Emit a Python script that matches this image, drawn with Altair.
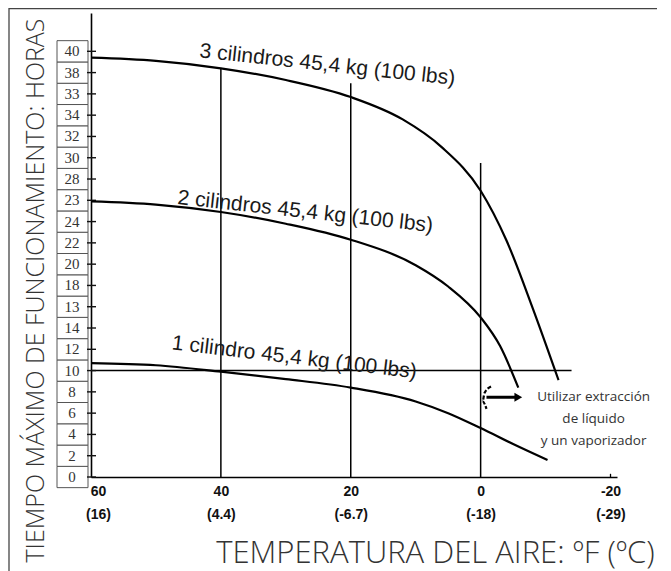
import altair as alt
import pandas as pd

# ---- data ----
c3_F = [60, 50, 40, 30, 20, 12, 6, 0, -4, -8, -12]
c3_h = [39.4, 39.1, 38.4, 37.3, 35.7, 33.6, 31.0, 26.9, 22.2, 15.9, 9.1]
c2_F = [60, 50, 40, 30, 20, 10, 5, 0, -3, -5.8]
c2_h = [25.9, 25.6, 24.9, 23.8, 22.3, 19.9, 17.9, 15.0, 12.3, 8.4]
c1_F = [60, 50, 40, 30, 20, 10, 5, 0, -5, -10.3]
c1_h = [10.7, 10.5, 9.9, 9.2, 8.4, 7.1, 6.0, 4.6, 3.1, 1.6]

y_ticks = [0, 2, 4, 6, 8, 10, 12, 14, 16, 18, 20, 22, 24, 26, 28, 30, 32, 34, 36, 38, 40]
y_labels = ["0", "2", "4", "6", "8", "10", "12", "14", "13", "18", "20", "22", "24", "23",
            "28", "30", "32", "34", "33", "38", "40"]

x_ticks = [60, 40, 20, 0, -20]
x_labels_f = ["60", "40", "20", "0", "-20"]
x_labels_c = ["(16)", "(4.4)", "(-6.7)", "(-18)", "(-29)"]

vline_F = [40, 20, 0]
vline_top = [38.4, 37.0, 29.5]

hline_h = [10]
hline_from = [60]
hline_to = [-14]

curve_labels = ["3 cilindros 45,4 kg (100 lbs)", "2 cilindros 45,4 kg (100 lbs)",
                "1 cilindro 45,4 kg (100 lbs)"]
curve_label_F = [23.6, 27.0, 28.7]
curve_label_h = [38.7, 24.9, 11.2]
curve_label_angle = [6.2, 6.3, 6.8]

note_text = "Utilizar extracción\nde líquido\ny un vaporizador"
note_F = [-17.4]
note_h = [7.5]

arrow_F = [-0.9, -5.8]
arrow_h = [7.5, 7.5]
bracket_F = [-1.6, -0.6, -0.3, -0.9]
bracket_h = [8.5, 7.9, 7.1, 6.4]

W, H = 526, 464
PAD_L, PAD_T = 83, 5

# ---- frames ----
curves = pd.DataFrame(
    [dict(F=f, h=v, s="3", o=i) for i, (f, v) in enumerate(zip(c3_F, c3_h))]
    + [dict(F=f, h=v, s="2", o=i) for i, (f, v) in enumerate(zip(c2_F, c2_h))]
    + [dict(F=f, h=v, s="1", o=i) for i, (f, v) in enumerate(zip(c1_F, c1_h))]
)
boxes = pd.DataFrame({"h": y_ticks, "lo": [v - 1 for v in y_ticks],
                      "hi": [v + 1 for v in y_ticks], "lab": y_labels})
vlines = pd.DataFrame({"F": vline_F, "top": vline_top, "zero": [0] * len(vline_F)})
hlines = pd.DataFrame({"h": hline_h, "F": hline_from, "F2": hline_to})
labels = pd.DataFrame({"F": curve_label_F, "h": curve_label_h, "t": curve_labels,
                       "a": curve_label_angle})
note = pd.DataFrame({"F": note_F, "h": note_h, "t": [note_text]})
arrow = pd.DataFrame({"F": arrow_F, "h": arrow_h})
bracket = pd.DataFrame({"F": bracket_F, "h": bracket_h, "o": list(range(len(bracket_F)))})
endtick = pd.DataFrame({"F": [-20], "h": [0], "h2": [0.3]})

expr = ""
for v, f, c in zip(x_ticks, x_labels_f, x_labels_c):
    expr += f"datum.value == {v} ? ['{f}', '{c}'] : "
expr += "''"

xscale = alt.Scale(domain=[60, -21], nice=False, zero=False)
yscale = alt.Scale(domain=[0, 43.6], nice=False, zero=False)

xaxis = alt.Axis(
    title="TEMPERATURA DEL AIRE: ºF (ºC)", values=x_ticks, labelExpr=expr,
    grid=False, ticks=False, domain=True, domainColor="#000", domainWidth=1.6,
    labelFont="Liberation Sans", labelFontWeight="bold", labelFontSize=14,
    labelColor="#111", labelLineHeight=23, labelPadding=7, labelFlush=False,
    labelOffset={"condition": {"test": "datum.value == 60", "value": 7}, "value": 0},
    titleFont="Open Sans", titleFontSize=31, titleFontWeight=300, titleColor="#333",
    titleX=344, titleY=85, titleBaseline="alphabetic", titleAlign="center",
)
yaxis = alt.Axis(
    title="TIEMPO MÁXIMO DE FUNCIONAMIENTO: HORAS", grid=False, ticks=False,
    labels=False, domain=True, domainColor="#000", domainWidth=1.6,
    titleFont="Open Sans", titleFontSize=25, titleFontWeight=300, titleColor="#333",
    titleX=-56, titleY=277, titleAngle=270, titleBaseline="middle", titleAlign="center",
)


def X(field):
    return alt.X(field, type="quantitative", scale=xscale, axis=xaxis)


def Y(field):
    return alt.Y(field, type="quantitative", scale=yscale, axis=yaxis)


curve_layer = alt.Chart(curves).mark_line(
    color="#000", strokeWidth=2.2, interpolate="monotone"
).encode(x=X("F"), y=Y("h"), detail="s:N", order="o:Q")

box_layer = alt.Chart(boxes).mark_rect(
    fill="white", stroke="#555", strokeWidth=1
).encode(y=Y("lo"), y2=alt.Y2("hi"), x=alt.value(-34), x2=alt.value(-3))

box_text = alt.Chart(boxes).mark_text(
    font="Liberation Serif", fontSize=15, color="#333", baseline="middle", align="center"
).encode(y=Y("h"), x=alt.value(-19), text="lab:N")

ytick_layer = alt.Chart(boxes).mark_rule(color="#111", strokeWidth=1.4).encode(
    y=Y("h"), x=alt.value(-4), x2=alt.value(5)
)

vline_layer = alt.Chart(vlines).mark_rule(color="#000", strokeWidth=1.5).encode(
    x=X("F"), y=Y("top"), y2=alt.Y2("zero")
)

hline_layer = alt.Chart(hlines).mark_rule(color="#000", strokeWidth=1.5).encode(
    y=Y("h"), x=X("F"), x2=alt.X2("F2")
)

endtick_layer = alt.Chart(endtick).mark_rule(color="#000", strokeWidth=1.3).encode(
    x=X("F"), y=Y("h"), y2=alt.Y2("h2")
)

label_layers = []
for i in range(len(curve_labels)):
    label_layers.append(
        alt.Chart(labels.iloc[[i]]).mark_text(
            font="Liberation Sans", fontSize=21, color="#1a1a1a",
            angle=curve_label_angle[i], align="center", baseline="middle"
        ).encode(x=X("F"), y=Y("h"), text="t:N")
    )

note_layer = alt.Chart(note).mark_text(
    font="Open Sans", fontSize=13.5, color="#333", align="center", baseline="middle",
    lineBreak="\n", lineHeight=22
).encode(x=X("F"), y=Y("h"), text="t:N")

arrow_line = alt.Chart(arrow).mark_line(color="#000", strokeWidth=3).encode(
    x=X("F"), y=Y("h")
)
arrow_head = alt.Chart(arrow.iloc[[1]]).mark_point(
    shape="triangle-right", filled=True, color="#000", size=80, opacity=1
).encode(x=X("F"), y=Y("h"))

bracket_layer = alt.Chart(bracket).mark_line(
    color="#000", strokeWidth=2.2, strokeDash=[4, 2], interpolate="monotone"
).encode(x=X("F"), y=Y("h"), order="o:Q")

frame_left = alt.Chart(boxes.iloc[[0]]).mark_rule(color="#444", strokeWidth=1.3).encode(
    x=alt.value(-82), y=alt.value(-6), y2=alt.value(H + 110)
)
frame_top = alt.Chart(boxes.iloc[[0]]).mark_rule(color="#444", strokeWidth=1.6).encode(
    x=alt.value(-82), x2=alt.value(W + 60), y=alt.value(-4.6)
)

chart = alt.layer(
    frame_left, frame_top,
    vline_layer, hline_layer, endtick_layer,
    box_layer, box_text, ytick_layer,
    curve_layer, *label_layers, note_layer,
    arrow_line, arrow_head, bracket_layer,
).properties(
    width=W, height=H,
    autosize=alt.AutoSizeParams(type="none"),
    padding={"left": PAD_L, "top": PAD_T, "right": 40, "bottom": 100},
    background="white",
).configure_view(stroke=None)

chart.save("out.html", embed_options={"renderer": "svg", "actions": False})
